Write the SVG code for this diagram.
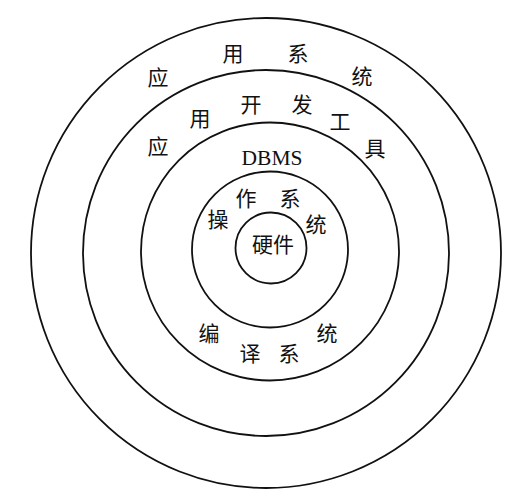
<svg xmlns="http://www.w3.org/2000/svg" width="532" height="500" viewBox="0 0 532 500">
  <style>
    .ring { fill: none; stroke: #111; stroke-width: 1.8; }
    .cjk { font-family: "Noto Sans CJK SC", "Noto Sans CJK TC", sans-serif; font-size: 21px; fill: #111; text-anchor: middle; dominant-baseline: central; }
    .lat { font-family: "Liberation Serif", "DejaVu Serif", serif; font-size: 21.5px; fill: #111; text-anchor: middle; dominant-baseline: central; }
  </style>
  <rect width="532" height="500" fill="#fff"/>
  <g id="app-system">
    <circle class="ring" cx="266" cy="253" r="235"/>
    <text class="cjk" x="158" y="76">应</text>
    <text class="cjk" x="233" y="52">用</text>
    <text class="cjk" x="298" y="52">系</text>
    <text class="cjk" x="362" y="75">统</text>
  </g>
  <g id="app-dev-tools">
    <circle class="ring" cx="266" cy="253" r="183"/>
    <text class="cjk" x="158" y="145">应</text>
    <text class="cjk" x="200" y="117">用</text>
    <text class="cjk" x="251" y="103">开</text>
    <text class="cjk" x="302" y="103">发</text>
    <text class="cjk" x="340" y="120">工</text>
    <text class="cjk" x="375" y="147">具</text>
  </g>
  <g id="dbms">
    <circle class="ring" cx="270" cy="251.5" r="129"/>
    <text class="lat" x="272" y="158">DBMS</text>
  </g>
  <g id="compiler-system">
    <text class="cjk" x="209" y="332">编</text>
    <text class="cjk" x="250" y="352">译</text>
    <text class="cjk" x="289" y="352">系</text>
    <text class="cjk" x="327" y="332">统</text>
  </g>
  <g id="os">
    <circle class="ring" cx="270" cy="249.5" r="78"/>
    <text class="cjk" x="218" y="218">操</text>
    <text class="cjk" x="246" y="197">作</text>
    <text class="cjk" x="290" y="197">系</text>
    <text class="cjk" x="316" y="223">统</text>
  </g>
  <g id="hardware">
    <circle class="ring" cx="271" cy="248" r="35.5"/>
    <text class="cjk" x="273" y="243">硬件</text>
  </g>
  <g id="connectors"></g>
</svg>
